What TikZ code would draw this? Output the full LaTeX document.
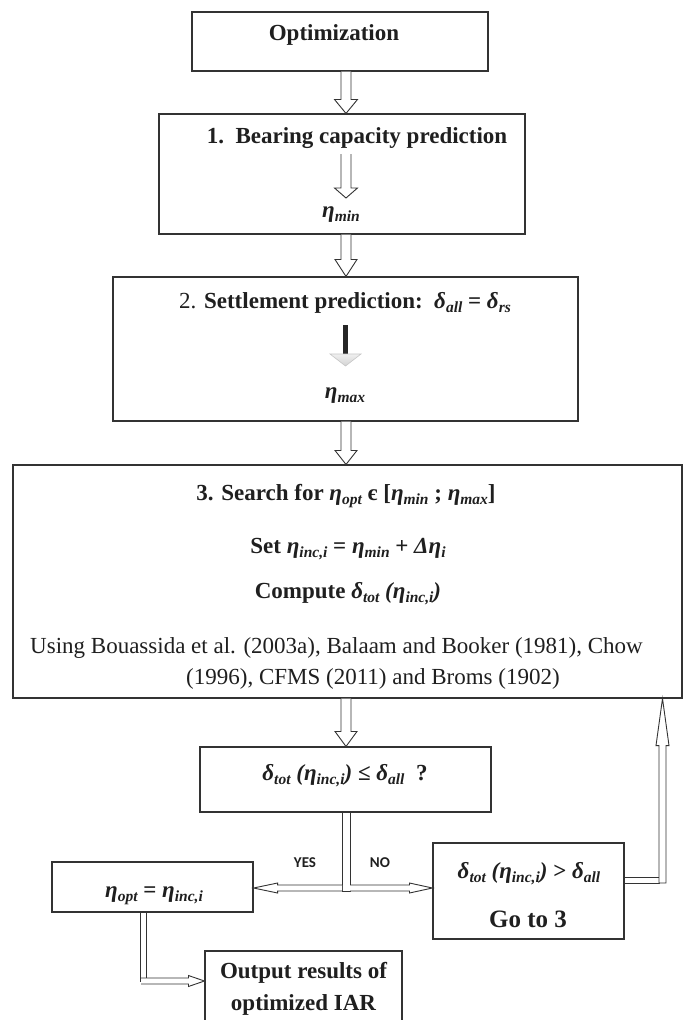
\documentclass[tikz,border=0pt]{standalone}
\usepackage{fontspec}
\setmainfont{Liberation Serif}
\newfontfamily\yesfont{Carlito}
\usetikzlibrary{calc}

\newcommand{\sbs}[1]{\raisebox{-4pt}{\fontsize{15.5}{16}\selectfont\bfseries\itshape #1}}
\newcommand{\gk}[2]{{\bfseries\itshape #1}\sbs{#2}}
\newcommand{\bip}[1]{{\bfseries\itshape #1}}

\tikzset{
 box/.style={draw=black!80, line width=1.1pt, fill=white, inner sep=0pt, rectangle},
 txt/.style={inner sep=0pt, anchor=base, text=black!88, font=\fontsize{23}{27}\selectfont},
 hol/.style={draw=black!80, line width=0.9pt, fill=white, line join=miter},
 yn/.style={inner sep=0pt, anchor=base, text=black!88, font=\yesfont\fontsize{15}{18}\selectfont\bfseries},
}

\newcommand{\mkbox}[5]{\node[box, minimum width={(#4-#2)*1pt}, minimum height={(#5-#3)*1pt}] (#1) at ({(#2+#4)/2},{(#3+#5)/2}) {};}
% down arrow: from, to, shaft half width, head half width, head length
\newcommand{\arrdown}[5]{\draw[hol] let \p1=(#1), \p2=(#2) in
 (\x1-#3pt,\y1) -- (\x1-#3pt,\y2+#5pt) -- (\x1-#4pt,\y2+#5pt) -- (\x1,\y2) -- (\x1+#4pt,\y2+#5pt) -- (\x1+#3pt,\y2+#5pt) -- (\x1+#3pt,\y1);}
\newcommand{\arrleft}[5]{\draw[hol] let \p1=(#1), \p2=(#2) in
 (\x1,\y1+#3pt) -- (\x2+#5pt,\y1+#3pt) -- (\x2+#5pt,\y1+#4pt) -- (\x2,\y1) -- (\x2+#5pt,\y1-#4pt) -- (\x2+#5pt,\y1-#3pt) -- (\x1,\y1-#3pt);}
\newcommand{\arrright}[5]{\draw[hol] let \p1=(#1), \p2=(#2) in
 (\x1,\y1+#3pt) -- (\x2-#5pt,\y1+#3pt) -- (\x2-#5pt,\y1+#4pt) -- (\x2,\y1) -- (\x2-#5pt,\y1-#4pt) -- (\x2-#5pt,\y1-#3pt) -- (\x1,\y1-#3pt);}

\begin{document}
\begin{tikzpicture}[x=1pt,y=-1pt]
\useasboundingbox (0,0) rectangle (686,1020);
\fill[white] (0,0) rectangle (686,1020);
\clip (0,0) rectangle (686,1020);

% boxes
\mkbox{opt}{192}{12}{488}{71}
\mkbox{b1}{159}{114}{525}{234}
\mkbox{b2}{113}{277}{578}{421}
\mkbox{b3}{13}{465}{682}{698}
\mkbox{dec}{200}{747}{491}{812}
\mkbox{yes}{52}{862}{253}{912}
\mkbox{no}{433}{843}{624}{939}
\mkbox{out}{205}{951}{402}{1045}

\coordinate (col) at (346,0);
\coordinate (b1a) at (346,154);
\coordinate (b1b) at (346,198);
\coordinate (b2a) at (345.5,325);
\coordinate (b2b) at (345.5,366);
\coordinate (split) at (346,888);
\coordinate (splitL) at (342,888);
\coordinate (splitR) at (350,888);
\coordinate (loopc) at (662.5,880);
\coordinate (ybend) at (143,981);
\coordinate (ybendL) at (141,981);

% main column arrows
\arrdown{opt.south -| col}{b1.north -| col}{5}{11.5}{14}
\arrdown{b1a}{b1b}{5}{11.5}{10}
\arrdown{b1.south -| col}{b2.north -| col}{5}{11}{17}
\arrdown{b2.south -| col}{b3.north -| col}{5}{11}{14}
\arrdown{b3.south -| col}{dec.north -| col}{5}{11}{15}

% black arrow inside box 2
\fill[black!85] let \p1=(b2a), \p2=(b2b) in (\x1-2.5pt,\y1) rectangle (\x1+2.5pt,\y2+12pt);
\draw[gray!45, line width=0.6pt, top color=gray!12, bottom color=gray!35] let \p1=(b2a), \p2=(b2b) in
 (\x1-15.5pt,\y2+12pt) -- (\x1,\y2) -- (\x1+15.5pt,\y2+12pt) -- cycle;

% decision split
\draw[hol] let \p1=(dec.south -| col), \p2=(split) in
 (\x1-4pt,\y1) -- (\x1-4pt,\y2-3pt) -- (\x1+4pt,\y2-3pt) -- (\x1+4pt,\y1);
\arrleft{splitL}{yes.east}{3}{5}{24}
\arrright{splitR}{no.west}{3}{5}{23}

% loop back to 3
\draw[hol] let \p1=(no.east), \p2=(loopc) in (\x1,\y2+3pt) rectangle (\x2-3.5pt,\y2-3pt);
\draw[hol] let \p1=(loopc), \p2=(b3.south -| loopc) in
 (\x1-3.5pt,\y1-3pt) -- (\x1-3.5pt,\y2-47pt) -- (\x1-6.5pt,\y2-47pt) -- (\x1,\y2) -- (\x1+6.5pt,\y2-47pt) -- (\x1+3.5pt,\y2-47pt) -- (\x1+3.5pt,\y1-3pt) -- cycle;

% yes -> output
\draw[hol] let \p1=(yes.south -| ybend), \p2=(ybend) in (\x1-3pt,\y1) rectangle (\x1+3pt,\y2);
\arrright{ybendL}{out.west}{3}{5.5}{16}

% texts
\node[txt] (optT) at (334,40) {\bfseries Optimization};
\node[txt] (b1T) at (357,143) {\bfseries 1.\ \ Bearing capacity prediction};
\node[txt] (b1E) at (341,217) {\gk{η}{min}};
\node[txt] (b2T) at (345,308) {2. \textbf{Settlement prediction:}\ \ \gk{δ}{all} \textbf{=} \gk{δ}{rs}};
\node[txt] (b2E) at (345,398) {\gk{η}{max}};
\node[txt] (b3T1) at (346,500) {\textbf{3. Search for} \gk{η}{opt} \textbf{є [}\gk{η}{min} \textbf{;} \gk{η}{max}\textbf{]}};
\node[txt] (b3T2) at (348,553) {\textbf{Set} \gk{η}{inc,i} \textbf{=} \gk{η}{min} \textbf{+} \gk{Δη}{i}};
\node[txt] (b3T3) at (348,598) {\textbf{Compute} \gk{δ}{tot} \bip{(}\gk{η}{inc,i}\bip{)}};
\node[txt] (b3T4) at (336.5,653) {Using Bouassida et al. (2003a), Balaam and Booker (1981), Chow};
\node[txt] (b3T5) at (373,684) {(1996), CFMS (2011) and Broms (1902)};
\node[txt] (decT) at (345,780) {\gk{δ}{tot} \bip{(}\gk{η}{inc,i}\bip{)} \textbf{≤} \gk{δ}{all}\ \ \textbf{?}};
\node[yn] (yesL) at (305,867) {YES};
\node[yn] (noL) at (380,867) {NO};
\node[txt] (yT) at (154,897) {\gk{η}{opt} \textbf{=} \gk{η}{inc,i}};
\node[txt] (nT1) at (529,878) {\gk{δ}{tot} \bip{(}\gk{η}{inc,i}\bip{)} \textbf{>} \gk{δ}{all}};
\node[txt, font=\fontsize{25}{28}\selectfont] (nT2) at (528,927) {\bfseries Go to 3};
\node[txt] (oT1) at (303.5,978) {\bfseries Output results of};
\node[txt] (oT2) at (303.5,1010) {\bfseries optimized IAR};
\end{tikzpicture}
\end{document}
